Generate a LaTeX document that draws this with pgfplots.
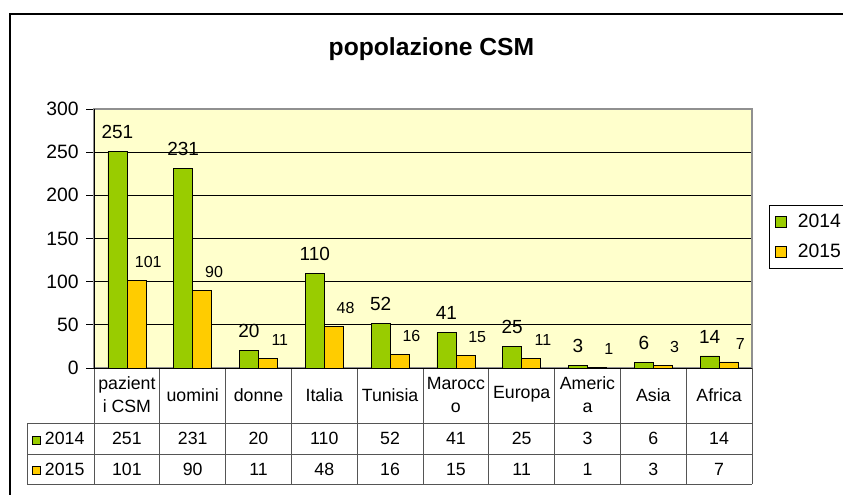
\documentclass[border=0pt]{standalone}
\usepackage{pgfplots}
\pgfplotsset{compat=1.18}
\usepackage{pgfplotstable}
\usepackage{fontspec}
\setmainfont{Liberation Sans}
\definecolor{cA}{HTML}{99CC00}
\definecolor{cB}{HTML}{FFCC00}
\definecolor{bg}{HTML}{FFFFCC}
\definecolor{brd}{HTML}{909090}
\definecolor{tl}{HTML}{555555}
\pgfplotstableread{
x a b
0 251 101
1 231 90
2 20 11
3 110 48
4 52 16
5 41 15
6 25 11
7 3 1
8 6 3
9 14 7
}\data
\begin{document}
\begin{tikzpicture}
\useasboundingbox (0,0) rectangle (632.25pt,370.5pt);
\fill[white] (0,0) rectangle (632.25pt,370.5pt);
\draw[line width=1.5pt] (7.5pt,-5pt) -- (7.5pt,360pt) -- (660pt,360pt);
\node[anchor=base, font=\bfseries\fontsize{18.5}{22}\selectfont] at (323.6pt,328.5pt) {popolazione CSM};
\begin{axis}[
  at={(70.5pt,94.5pt)}, anchor=south west,
  scale only axis, width=493.5pt, height=194.25pt,
  xmin=-0.5, xmax=9.5, ymin=0, ymax=300,
  ytick={0,50,...,300},
  xtick={0,...,9},
  xticklabels={{pazient\\i CSM},uomini,donne,Italia,Tunisia,{Marocc\\o},Europa,{Americ\\a},Asia,Africa},
  xticklabel style={anchor=center, yshift=-14pt, align=center, font=\fontsize{13.3}{17}\selectfont},
  yticklabel style={font=\fontsize{14.5}{16}\selectfont, xshift=-2pt},
  /pgf/number format/assume math mode=true,
  clip=false,
  axis background/.style={fill=bg},
  axis line style={brd, line width=1pt},
  ymajorgrids, grid style={black, line width=0.6pt},
  tick align=outside, ytick pos=left, xtick pos=bottom,
  major tick length=6pt,
  y tick style={black, line width=0.6pt},
  x tick style={draw=none},
  legend style={at={(1.0258,0.506)}, anchor=west, draw=black, line width=0.6pt,
    font=\fontsize{14.5}{17}\selectfont, row sep=7pt, inner sep=4.5pt,
    nodes={inner sep=2pt}},
  legend image code/.code={\draw[#1, draw=black, line width=0.6pt] (0pt,-4.1pt) rectangle (8.2pt,4.1pt);},
]
\addplot[ybar, bar width=14.25pt, bar shift=-7.125pt, fill=cA, draw=black, line width=0.6pt,
  nodes near coords, every node near coord/.append style={font=\fontsize{14.25}{16}\selectfont, yshift=6pt, xshift=-7.125pt, text=black}]
  table[x=x, y=a] {\data};
\addplot[ybar, bar width=14.25pt, bar shift=7.125pt, fill=cB, draw=black, line width=0.6pt,
  nodes near coords, every node near coord/.append style={font=\fontsize{12}{14}\selectfont, yshift=6pt, xshift=16pt, text=black}]
  table[x=x, y=b] {\data};
\legend{\hspace{6pt}2014,\hspace{6pt}2015}
\addplot[forget plot, draw=none, mark=none, nodes near coords, point meta=\thisrow{a},
  every node near coord/.append style={anchor=center, font=\fontsize{13.3}{15}\selectfont}]
  table[x=x, y expr=-81.66] {\data};
\addplot[forget plot, draw=none, mark=none, nodes near coords, point meta=\thisrow{b},
  every node near coord/.append style={anchor=center, font=\fontsize{13.3}{15}\selectfont}]
  table[x=x, y expr=-116.99] {\data};
\end{axis}
\foreach \k in {0,...,10} {
  \draw[tl, line width=0.7pt] ({70.5pt+\k*49.35pt},94.5pt) -- ({70.5pt+\k*49.35pt},7.5pt);
}
\draw[black, line width=0.7pt] (70.5pt,94.5pt) -- (70.5pt,288.75pt);
\draw[black, line width=0.7pt] (64.5pt,94.5pt) -- (564pt,94.5pt);
\draw[tl, line width=0.7pt] (20.25pt,53.25pt) -- (564pt,53.25pt);
\draw[tl, line width=0.7pt] (20.25pt,30pt) -- (564pt,30pt);
\draw[tl, line width=0.7pt] (20.25pt,7.5pt) -- (564pt,7.5pt);
\draw[tl, line width=0.7pt] (20.25pt,7.5pt) -- (20.25pt,53.25pt);
\node[anchor=west, inner sep=0pt, font=\fontsize{13.3}{15}\selectfont] at (24pt,41.6pt)
  {\tikz\draw[fill=cA, draw=black, line width=0.5pt] (0,0) rectangle (6pt,6pt);\hspace{3pt}2014};
\node[anchor=west, inner sep=0pt, font=\fontsize{13.3}{15}\selectfont] at (24pt,18.75pt)
  {\tikz\draw[fill=cB, draw=black, line width=0.5pt] (0,0) rectangle (6pt,6pt);\hspace{3pt}2015};
\end{tikzpicture}
\end{document}
